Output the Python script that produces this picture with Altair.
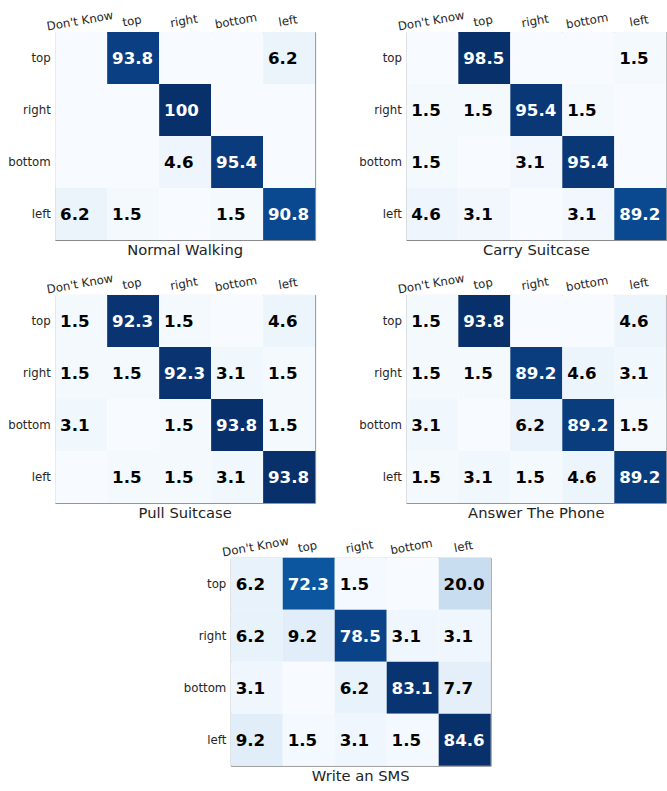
import altair as alt
import pandas as pd

# Confusion matrices (row = true direction, column = predicted), values in %
ROWS = ["top", "right", "bottom", "left"]
COLS = ["Don't Know", "top", "right", "bottom", "left"]

normal_walking = [
    [0, 93.8, 0, 0, 6.2],
    [0, 0, 100, 0, 0],
    [0, 0, 4.6, 95.4, 0],
    [6.2, 1.5, 0, 1.5, 90.8],
]
carry_suitcase = [
    [0, 98.5, 0, 0, 1.5],
    [1.5, 1.5, 95.4, 1.5, 0],
    [1.5, 0, 3.1, 95.4, 0],
    [4.6, 3.1, 0, 3.1, 89.2],
]
pull_suitcase = [
    [1.5, 92.3, 1.5, 0, 4.6],
    [1.5, 1.5, 92.3, 3.1, 1.5],
    [3.1, 0, 1.5, 93.8, 1.5],
    [0, 1.5, 1.5, 3.1, 93.8],
]
answer_phone = [
    [1.5, 93.8, 0, 0, 4.6],
    [1.5, 1.5, 89.2, 4.6, 3.1],
    [3.1, 0, 6.2, 89.2, 1.5],
    [1.5, 3.1, 1.5, 4.6, 89.2],
]
write_sms = [
    [6.2, 72.3, 1.5, 0, 20.0],
    [6.2, 9.2, 78.5, 3.1, 3.1],
    [3.1, 0, 6.2, 83.1, 7.7],
    [9.2, 1.5, 3.1, 1.5, 84.6],
]

# matplotlib "Blues" colour stops
BLUES = ["#f7fbff", "#deebf7", "#c6dbef", "#9ecae1", "#6baed6",
         "#4292c6", "#2171b5", "#08519c", "#08306b"]
STOPS = [i / 8 for i in range(9)]

CELL = 53
FONT = "DejaVu Sans"


def to_frame(matrix):
    recs = []
    for r, row in zip(ROWS, matrix):
        for c, v in zip(COLS, row):
            recs.append({"row": r, "col": c, "v": v})
    return pd.DataFrame(recs)


def panel(matrix, title):
    base = (
        alt.Chart(to_frame(matrix))
        .transform_joinaggregate(vmax="max(v)")
        .transform_calculate(n="datum.v / datum.vmax")
    )
    xscale = alt.Scale(domain=COLS, paddingInner=0, paddingOuter=0)
    yscale = alt.Scale(domain=ROWS, paddingInner=0, paddingOuter=0)
    x_axis = alt.Axis(orient="top", labelAngle=-10, labelAlign="center",
                      labelBaseline="bottom", labelPadding=5, title=None)
    y_axis = alt.Axis(title=None, labelPadding=5)

    cells = base.mark_rect().encode(
        x=alt.X("col:N", sort=COLS, scale=xscale, axis=x_axis),
        y=alt.Y("row:N", sort=ROWS, scale=yscale, axis=y_axis),
        color=alt.Color("n:Q", scale=alt.Scale(domain=STOPS, range=BLUES),
                        legend=None),
    )
    labels = base.transform_filter("datum.v > 0").transform_calculate(
        label="datum.v == 100 ? '100' : format(datum.v, '.1f')"
    ).mark_text(align="left", baseline="middle", dx=5, dy=1,
                font=FONT, fontSize=17, fontWeight="bold").encode(
        x=alt.X("col:N", sort=COLS, scale=xscale, bandPosition=0),
        y=alt.Y("row:N", sort=ROWS, scale=yscale),
        text="label:N",
        color=alt.condition("datum.n > 0.5", alt.value("white"),
                            alt.value("black")),
    )
    return (cells + labels).properties(
        width=CELL * len(COLS),
        height=CELL * len(ROWS),
        title=alt.TitleParams(title, orient="bottom", fontSize=15,
                              fontWeight="normal", font=FONT,
                              color="#222222", offset=3),
    )


top_row = alt.hconcat(panel(normal_walking, "Normal Walking"),
                      panel(carry_suitcase, "Carry Suitcase"), spacing=43)
mid_row = alt.hconcat(panel(pull_suitcase, "Pull Suitcase"),
                      panel(answer_phone, "Answer The Phone"), spacing=43)
bottom = panel(write_sms, "Write an SMS")

chart = (
    alt.vconcat(top_row, mid_row, bottom, spacing=12, center=True)
    .properties(padding={"left": 7, "top": 0, "right": 0, "bottom": 0})
    .configure(background="white")
    .configure_view(stroke="#888888", strokeWidth=1)
    .configure_axis(domain=False, ticks=False, grid=False,
                    labelFont=FONT, labelFontSize=12, labelColor="#262626")
)

chart.save("out.html", embed_options={"renderer": "svg", "actions": False})
